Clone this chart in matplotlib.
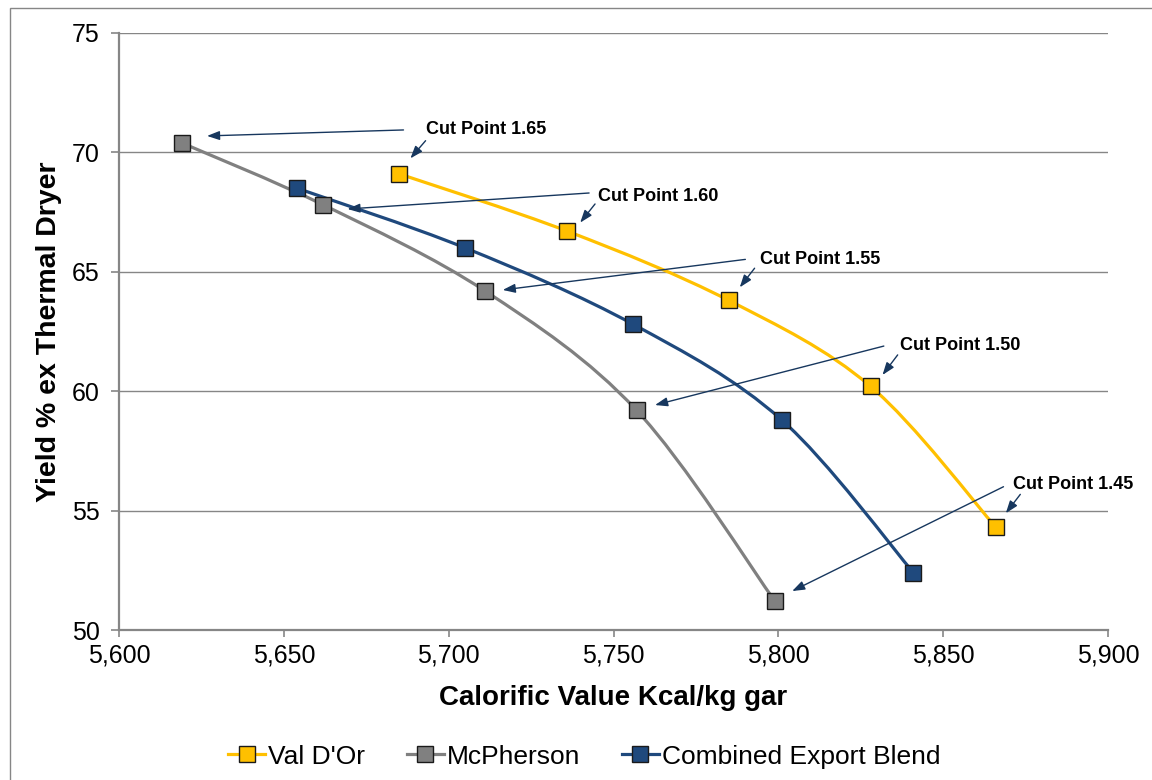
import matplotlib
matplotlib.use("Agg")
import matplotlib.pyplot as plt
from matplotlib.path import Path
from matplotlib.patches import PathPatch, Rectangle
from matplotlib.lines import Line2D
from matplotlib.ticker import FuncFormatter, MultipleLocator

plt.rcParams["font.family"] = ["Liberation Sans", "DejaVu Sans"]

# ---- data ----
series_names = ["Val D'Or", "McPherson", "Combined Export Blend"]
cv_valdor = [5685, 5736, 5785, 5828, 5866]
yield_valdor = [69.1, 66.7, 63.8, 60.2, 54.3]
cv_mcpherson = [5619, 5662, 5711, 5757, 5799]
yield_mcpherson = [70.4, 67.8, 64.2, 59.2, 51.2]
cv_blend = [5654, 5705, 5756, 5801, 5841]
yield_blend = [68.5, 66.0, 62.8, 58.8, 52.4]
cut_points = ["1.65", "1.60", "1.55", "1.50", "1.45"]

COLORS = ["#FFC000", "#808080", "#1F497D"]
ARROW_C = "#17375E"
AXIS_C = "#868686"

# label placement (data coords): text anchor, long-arrow start/tip, short-arrow start/tip
label_pos = [(5693.0, 70.97), (5745.3, 68.17), (5794.3, 65.52), (5836.9, 61.92), (5871.1, 56.11)]
long_start = [(5686.3, 70.94), (5742.6, 68.30), (5790.0, 65.52), (5832.0, 61.89), (5868.3, 56.00)]
long_tip = [(5626.7, 70.69), (5669.3, 67.63), (5716.4, 64.24), (5762.6, 59.42), (5804.2, 51.63)]
short_start = [(5693.0, 70.49), (5744.4, 67.84), (5792.8, 65.15), (5836.2, 61.52), (5873.4, 55.68)]
short_tip = [(5688.4, 69.75), (5739.9, 67.06), (5788.3, 64.35), (5831.6, 60.68), (5869.0, 54.89)]


def smooth_path(xs, ys):
    # Excel-like smoothed line: Catmull-Rom segments as cubic Beziers
    pts = list(zip(xs, ys))
    n = len(pts)
    verts = [pts[0]]
    codes = [Path.MOVETO]
    for i in range(n - 1):
        p0 = pts[i - 1] if i > 0 else pts[i]
        p1, p2 = pts[i], pts[i + 1]
        p3 = pts[i + 2] if i + 2 < n else pts[i + 1]
        c1 = (p1[0] + (p2[0] - p0[0]) / 6, p1[1] + (p2[1] - p0[1]) / 6)
        c2 = (p2[0] - (p3[0] - p1[0]) / 6, p2[1] - (p3[1] - p1[1]) / 6)
        verts += [c1, c2, p2]
        codes += [Path.CURVE4] * 3
    return Path(verts, codes)


fig = plt.figure(figsize=(11.52, 7.8), dpi=100)
ax = fig.add_axes([119 / 1152, 1 - 630 / 780, (1108 - 119) / 1152, (630 - 33) / 780])

all_series = [(cv_valdor, yield_valdor), (cv_mcpherson, yield_mcpherson), (cv_blend, yield_blend)]
for (xs, ys), c in zip(all_series, COLORS):
    ax.add_patch(PathPatch(smooth_path(xs, ys), fill=False, ec=c, lw=2.3, zorder=3,
                           capstyle="round"))
    ax.plot(xs, ys, ls="none", marker="s", ms=11.5, mfc=c, mec="#1a1a1a", mew=1.0, zorder=4)

for i, cp in enumerate(cut_points):
    ax.text(*label_pos[i], f"Cut Point {cp}", ha="left", va="center",
            fontsize=13, fontweight="bold", zorder=6)
    for s, t in [(long_start[i], long_tip[i]), (short_start[i], short_tip[i])]:
        ax.annotate("", xy=t, xytext=s,
                    arrowprops=dict(arrowstyle="-|>,head_length=0.75,head_width=0.27",
                                    color=ARROW_C, lw=1.0, mutation_scale=10,
                                    shrinkA=0, shrinkB=0), zorder=5)

ax.set_xlim(5600, 5900)
ax.set_ylim(50, 75)
ax.xaxis.set_major_locator(MultipleLocator(50))
ax.yaxis.set_major_locator(MultipleLocator(5))
ax.xaxis.set_major_formatter(FuncFormatter(lambda v, p: f"{v:,.0f}"))
ax.grid(axis="y", color=AXIS_C, lw=1.0)
ax.set_axisbelow(True)
for s in ["top", "right"]:
    ax.spines[s].set_visible(False)
for s in ["left", "bottom"]:
    ax.spines[s].set_color(AXIS_C)
    ax.spines[s].set_linewidth(1.6)
ax.tick_params(axis="x", direction="out", length=5, width=1.2, color=AXIS_C, labelsize=18, pad=5)
ax.tick_params(axis="y", direction="out", length=6, width=1.2, color=AXIS_C, labelsize=18, pad=8)

ax.set_xlabel("Calorific Value Kcal/kg gar", fontsize=20, fontweight="bold", labelpad=12)
ax.set_ylabel("Yield % ex Thermal Dryer", fontsize=20.5, fontweight="bold", labelpad=7)

handles = [Line2D([], [], color=c, lw=2.3, marker="s", ms=11.5, mfc=c, mec="#1a1a1a", mew=1.0)
           for c in COLORS]
fig.legend(handles, series_names, loc="center", bbox_to_anchor=(0.507, 0.03), ncol=3,
           frameon=False, fontsize=19, handlelength=1.4, handletextpad=0.1, columnspacing=1.6)

fig.add_artist(Rectangle((10 / 1152, -0.1), 1.2, 1.1 - 8 / 780, transform=fig.transFigure,
                         fill=False, ec=AXIS_C, lw=1.0))

fig.savefig("out.png", dpi=100, facecolor="white")
